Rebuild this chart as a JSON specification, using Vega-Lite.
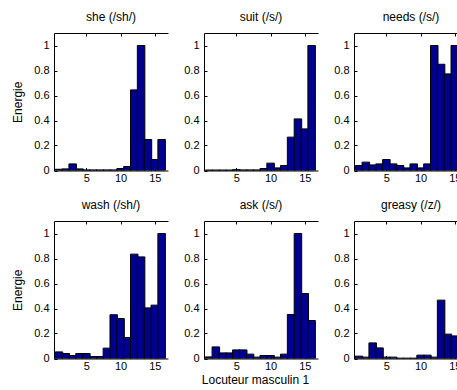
{
"$schema": "https://vega.github.io/schema/vega-lite/v6.json",
"padding": {"left": 11, "top": 11, "right": 0, "bottom": 0},
"background": "white",
"data": {"values": [
{"w":"she","k":1,"e":0.01},{"w":"she","k":2,"e":0.013},{"w":"she","k":3,"e":0.053},{"w":"she","k":4,"e":0.013},{"w":"she","k":5,"e":0.005},{"w":"she","k":6,"e":0.005},{"w":"she","k":7,"e":0.005},{"w":"she","k":8,"e":0.005},{"w":"she","k":9,"e":0.005},{"w":"she","k":10,"e":0.016},{"w":"she","k":11,"e":0.032},{"w":"she","k":12,"e":0.645},{"w":"she","k":13,"e":1.0},{"w":"she","k":14,"e":0.248},{"w":"she","k":15,"e":0.088},{"w":"she","k":16,"e":0.248},
{"w":"suit","k":1,"e":0.004},{"w":"suit","k":2,"e":0.004},{"w":"suit","k":3,"e":0.004},{"w":"suit","k":4,"e":0.004},{"w":"suit","k":5,"e":0.007},{"w":"suit","k":6,"e":0.005},{"w":"suit","k":7,"e":0.005},{"w":"suit","k":8,"e":0.005},{"w":"suit","k":9,"e":0.016},{"w":"suit","k":10,"e":0.059},{"w":"suit","k":11,"e":0.021},{"w":"suit","k":12,"e":0.04},{"w":"suit","k":13,"e":0.267},{"w":"suit","k":14,"e":0.413},{"w":"suit","k":15,"e":0.333},{"w":"suit","k":16,"e":1.0},
{"w":"needs","k":1,"e":0.04},{"w":"needs","k":2,"e":0.067},{"w":"needs","k":3,"e":0.045},{"w":"needs","k":4,"e":0.053},{"w":"needs","k":5,"e":0.088},{"w":"needs","k":6,"e":0.053},{"w":"needs","k":7,"e":0.04},{"w":"needs","k":8,"e":0.021},{"w":"needs","k":9,"e":0.053},{"w":"needs","k":10,"e":0.021},{"w":"needs","k":11,"e":0.053},{"w":"needs","k":12,"e":1.0},{"w":"needs","k":13,"e":0.85},{"w":"needs","k":14,"e":0.773},{"w":"needs","k":15,"e":1.0},{"w":"needs","k":16,"e":0.9},
{"w":"wash","k":1,"e":0.053},{"w":"wash","k":2,"e":0.04},{"w":"wash","k":3,"e":0.024},{"w":"wash","k":4,"e":0.04},{"w":"wash","k":5,"e":0.04},{"w":"wash","k":6,"e":0.016},{"w":"wash","k":7,"e":0.016},{"w":"wash","k":8,"e":0.083},{"w":"wash","k":9,"e":0.35},{"w":"wash","k":10,"e":0.32},{"w":"wash","k":11,"e":0.168},{"w":"wash","k":12,"e":0.835},{"w":"wash","k":13,"e":0.813},{"w":"wash","k":14,"e":0.405},{"w":"wash","k":15,"e":0.427},{"w":"wash","k":16,"e":1.0},
{"w":"ask","k":1,"e":0.013},{"w":"ask","k":2,"e":0.093},{"w":"ask","k":3,"e":0.045},{"w":"ask","k":4,"e":0.045},{"w":"ask","k":5,"e":0.069},{"w":"ask","k":6,"e":0.069},{"w":"ask","k":7,"e":0.035},{"w":"ask","k":8,"e":0.011},{"w":"ask","k":9,"e":0.024},{"w":"ask","k":10,"e":0.024},{"w":"ask","k":11,"e":0.011},{"w":"ask","k":12,"e":0.035},{"w":"ask","k":13,"e":0.352},{"w":"ask","k":14,"e":1.0},{"w":"ask","k":15,"e":0.52},{"w":"ask","k":16,"e":0.304},
{"w":"greasy","k":1,"e":0.019},{"w":"greasy","k":2,"e":0.011},{"w":"greasy","k":3,"e":0.125},{"w":"greasy","k":4,"e":0.085},{"w":"greasy","k":5,"e":0.011},{"w":"greasy","k":6,"e":0.011},{"w":"greasy","k":7,"e":0.003},{"w":"greasy","k":8,"e":0.003},{"w":"greasy","k":9,"e":0.003},{"w":"greasy","k":10,"e":0.027},{"w":"greasy","k":11,"e":0.027},{"w":"greasy","k":12,"e":0.011},{"w":"greasy","k":13,"e":0.467},{"w":"greasy","k":14,"e":0.195},{"w":"greasy","k":15,"e":0.181},{"w":"greasy","k":16,"e":0.2}
]},
"spacing": 15,
"vconcat": [
{"spacing": 14, "hconcat": [
{"width": 114, "height": 137.5, "title": {"text": "she (/sh/)"}, "transform": [{"filter": "datum.w === 'she'"}],
 "layer": [
  {"mark": {"type": "bar", "size": 7.5, "clip": true, "fill": "#00008f", "stroke": "#000000", "strokeWidth": 1},
   "encoding": {"x": {"field": "k", "type": "quantitative", "scale": {"domain": [1, 16.2], "nice": false, "zero": false}, "axis": {"orient": "bottom", "values": [5, 10, 15], "title": null}},
    "y": {"field": "e", "type": "quantitative", "scale": {"domain": [0, 1.1], "nice": false}, "axis": {"values": [0, 0.2, 0.4, 0.6, 0.8, 1], "format": "~g", "title": "Energie"}}}},
  {"mark": {"type": "rule", "opacity": 0, "clip": true},
   "encoding": {"x": {"field": "k", "type": "quantitative", "axis": {"orient": "top", "values": [5, 10, 15], "labels": false, "title": null}}}}
 ], "resolve": {"axis": {"x": "independent"}}},
{"width": 114, "height": 137.5, "title": {"text": "suit (/s/)"}, "transform": [{"filter": "datum.w === 'suit'"}],
 "layer": [
  {"mark": {"type": "bar", "size": 7.5, "clip": true, "fill": "#00008f", "stroke": "#000000", "strokeWidth": 1},
   "encoding": {"x": {"field": "k", "type": "quantitative", "scale": {"domain": [1, 16.2], "nice": false, "zero": false}, "axis": {"orient": "bottom", "values": [5, 10, 15], "title": null}},
    "y": {"field": "e", "type": "quantitative", "scale": {"domain": [0, 1.1], "nice": false}, "axis": {"values": [0, 0.2, 0.4, 0.6, 0.8, 1], "format": "~g", "title": null}}}},
  {"mark": {"type": "rule", "opacity": 0, "clip": true},
   "encoding": {"x": {"field": "k", "type": "quantitative", "axis": {"orient": "top", "values": [5, 10, 15], "labels": false, "title": null}}}}
 ], "resolve": {"axis": {"x": "independent"}}},
{"width": 114, "height": 137.5, "title": {"text": "needs (/s/)"}, "transform": [{"filter": "datum.w === 'needs'"}],
 "layer": [
  {"mark": {"type": "bar", "size": 7.5, "clip": true, "fill": "#00008f", "stroke": "#000000", "strokeWidth": 1},
   "encoding": {"x": {"field": "k", "type": "quantitative", "scale": {"domain": [1, 16.2], "nice": false, "zero": false}, "axis": {"orient": "bottom", "values": [5, 10, 15], "title": null}},
    "y": {"field": "e", "type": "quantitative", "scale": {"domain": [0, 1.1], "nice": false}, "axis": {"values": [0, 0.2, 0.4, 0.6, 0.8, 1], "format": "~g", "title": null}}}},
  {"mark": {"type": "rule", "opacity": 0, "clip": true},
   "encoding": {"x": {"field": "k", "type": "quantitative", "axis": {"orient": "top", "values": [5, 10, 15], "labels": false, "title": null}}}}
 ], "resolve": {"axis": {"x": "independent"}}}
]},
{"spacing": 14, "hconcat": [
{"width": 114, "height": 137.5, "title": {"text": "wash (/sh/)"}, "transform": [{"filter": "datum.w === 'wash'"}],
 "layer": [
  {"mark": {"type": "bar", "size": 7.5, "clip": true, "fill": "#00008f", "stroke": "#000000", "strokeWidth": 1},
   "encoding": {"x": {"field": "k", "type": "quantitative", "scale": {"domain": [1, 16.2], "nice": false, "zero": false}, "axis": {"orient": "bottom", "values": [5, 10, 15], "title": null}},
    "y": {"field": "e", "type": "quantitative", "scale": {"domain": [0, 1.1], "nice": false}, "axis": {"values": [0, 0.2, 0.4, 0.6, 0.8, 1], "format": "~g", "title": "Energie"}}}},
  {"mark": {"type": "rule", "opacity": 0, "clip": true},
   "encoding": {"x": {"field": "k", "type": "quantitative", "axis": {"orient": "top", "values": [5, 10, 15], "labels": false, "title": null}}}}
 ], "resolve": {"axis": {"x": "independent"}}},
{"width": 114, "height": 137.5, "title": {"text": "ask (/s/)"}, "transform": [{"filter": "datum.w === 'ask'"}],
 "layer": [
  {"mark": {"type": "bar", "size": 7.5, "clip": true, "fill": "#00008f", "stroke": "#000000", "strokeWidth": 1},
   "encoding": {"x": {"field": "k", "type": "quantitative", "scale": {"domain": [1, 16.2], "nice": false, "zero": false}, "axis": {"orient": "bottom", "values": [5, 10, 15], "title": "Locuteur masculin 1", "titleX": 51, "titlePadding": 3}},
    "y": {"field": "e", "type": "quantitative", "scale": {"domain": [0, 1.1], "nice": false}, "axis": {"values": [0, 0.2, 0.4, 0.6, 0.8, 1], "format": "~g", "title": null}}}},
  {"mark": {"type": "rule", "opacity": 0, "clip": true},
   "encoding": {"x": {"field": "k", "type": "quantitative", "axis": {"orient": "top", "values": [5, 10, 15], "labels": false, "title": null}}}}
 ], "resolve": {"axis": {"x": "independent"}}},
{"width": 114, "height": 137.5, "title": {"text": "greasy (/z/)"}, "transform": [{"filter": "datum.w === 'greasy'"}],
 "layer": [
  {"mark": {"type": "bar", "size": 7.5, "clip": true, "fill": "#00008f", "stroke": "#000000", "strokeWidth": 1},
   "encoding": {"x": {"field": "k", "type": "quantitative", "scale": {"domain": [1, 16.2], "nice": false, "zero": false}, "axis": {"orient": "bottom", "values": [5, 10, 15], "title": null}},
    "y": {"field": "e", "type": "quantitative", "scale": {"domain": [0, 1.1], "nice": false}, "axis": {"values": [0, 0.2, 0.4, 0.6, 0.8, 1], "format": "~g", "title": null}}}},
  {"mark": {"type": "rule", "opacity": 0, "clip": true},
   "encoding": {"x": {"field": "k", "type": "quantitative", "axis": {"orient": "top", "values": [5, 10, 15], "labels": false, "title": null}}}}
 ], "resolve": {"axis": {"x": "independent"}}}
]}
],
"config": {
 "view": {"stroke": null},
 "font": "Liberation Sans",
 "axis": {"grid": false, "domainColor": "#000000", "tickColor": "#000000", "labelColor": "#000000", "titleColor": "#000000", "labelFont": "Liberation Sans", "titleFont": "Liberation Sans", "labelFontSize": 11, "titleFontSize": 12, "titleFontWeight": "normal", "tickSize": -3, "domainWidth": 1, "tickWidth": 1},
 "axisX": {"labelPadding": 5, "labelFlush": false},
 "axisY": {"labelPadding": 8, "minExtent": 22, "maxExtent": 22, "titlePadding": 8},
 "title": {"font": "Liberation Sans", "fontSize": 12, "fontWeight": "normal", "color": "#000000", "baseline": "alphabetic", "offset": 8.5, "anchor": "middle", "frame": "group"}
}
}
